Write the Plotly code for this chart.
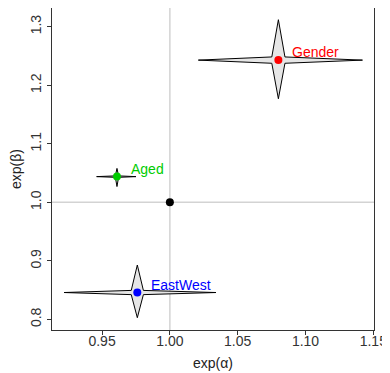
import plotly.graph_objects as go

# Data
labels = ["Gender", "Aged", "EastWest"]
exp_alpha = [1.080, 0.961, 0.976]
alpha_lo = [1.021, 0.946, 0.922]
alpha_hi = [1.142, 0.975, 1.034]
exp_beta = [1.243, 1.044, 0.846]
beta_lo = [1.177, 1.027, 0.803]
beta_hi = [1.312, 1.058, 0.893]
colors = ["#ff0000", "#00cc00", "#0000ff"]
ref_point = (1.0, 1.0)

x_ticks = [0.95, 1.00, 1.05, 1.10, 1.15]
x_ticktext = ["0.95", "1.00", "1.05", "1.10", "1.15"]
y_ticks = [0.8, 0.9, 1.0, 1.1, 1.2, 1.3]
y_ticktext = ["0.8", "0.9", "1.0", "1.1", "1.2", "1.3"]

FONT = "Liberation Sans, Arial, Helvetica, sans-serif"
INNER = 0.08

fig = go.Figure()

for i, lab in enumerate(labels):
    cx, cy = exp_alpha[i], exp_beta[i]
    dx = INNER * (alpha_hi[i] - alpha_lo[i]) / 2
    dy = INNER * (beta_hi[i] - beta_lo[i]) / 2
    xs = [alpha_lo[i], cx - dx, cx, cx + dx, alpha_hi[i], cx + dx, cx, cx - dx, alpha_lo[i]]
    ys = [cy, cy + dy, beta_hi[i], cy + dy, cy, cy - dy, beta_lo[i], cy - dy, cy]
    fig.add_trace(go.Scatter(x=xs, y=ys, mode="lines", fill="toself",
                             fillcolor="#e6e6e6", line=dict(color="black", width=1),
                             hoverinfo="skip", showlegend=False))

fig.add_trace(go.Scatter(x=exp_alpha, y=exp_beta, mode="markers",
                         marker=dict(color=colors, size=8, line=dict(width=0)),
                         showlegend=False))
fig.add_trace(go.Scatter(x=[ref_point[0]], y=[ref_point[1]], mode="markers",
                         marker=dict(color="black", size=8), showlegend=False))

for i, lab in enumerate(labels):
    fig.add_annotation(x=exp_alpha[i], y=exp_beta[i], text=lab, showarrow=False,
                       xanchor="left", yanchor="middle", xshift=12, yshift=8,
                       font=dict(family=FONT, size=14, color=colors[i]))

# axis titles
fig.add_annotation(x=0.5, y=0, xref="paper", yref="paper", text="exp(α)", showarrow=False,
                   xanchor="center", yanchor="middle", yshift=-33,
                   font=dict(family=FONT, size=14, color="#222222"))
fig.add_annotation(x=0, y=0.5, xref="paper", yref="paper", text="exp(β)", showarrow=False,
                   xanchor="center", yanchor="middle", xshift=-36, textangle=-90,
                   font=dict(family=FONT, size=14, color="#222222"))

# reference lines
fig.add_shape(type="line", xref="x", yref="paper", x0=1, x1=1, y0=0, y1=1,
              line=dict(color="#d3d3d3", width=1.5), layer="below")
fig.add_shape(type="line", xref="paper", yref="y", x0=0, x1=1, y0=1, y1=1,
              line=dict(color="#d3d3d3", width=1.5), layer="below")

# page body adds an 8px offset, so the figure is sized to fit the window
fig.update_layout(
    width=382, height=365,
    margin=dict(l=44, r=16, t=0, b=43),
    plot_bgcolor="white", paper_bgcolor="white",
    font=dict(family=FONT, size=14, color="#222222"),
    showlegend=False,
)
fig.update_xaxes(range=[0.9131, 1.1505], tickvals=x_ticks, ticktext=x_ticktext,
                 showgrid=False, zeroline=False, showline=True, linecolor="#333333",
                 linewidth=1, mirror=True, ticks="outside", ticklen=4, tickcolor="#333333",
                 automargin=False, ticklabelstandoff=-6,
                 tickfont=dict(size=14, color="#333333"))
fig.update_yaxes(range=[0.782, 1.332], tickvals=y_ticks, ticktext=y_ticktext,
                 showgrid=False, zeroline=False, showline=True, linecolor="#333333",
                 linewidth=1, mirror=True, ticks="outside", ticklen=4, tickcolor="#333333",
                 tickangle=-90, automargin=False,
                 tickfont=dict(size=14, color="#333333"))

fig.write_html("out.html")
